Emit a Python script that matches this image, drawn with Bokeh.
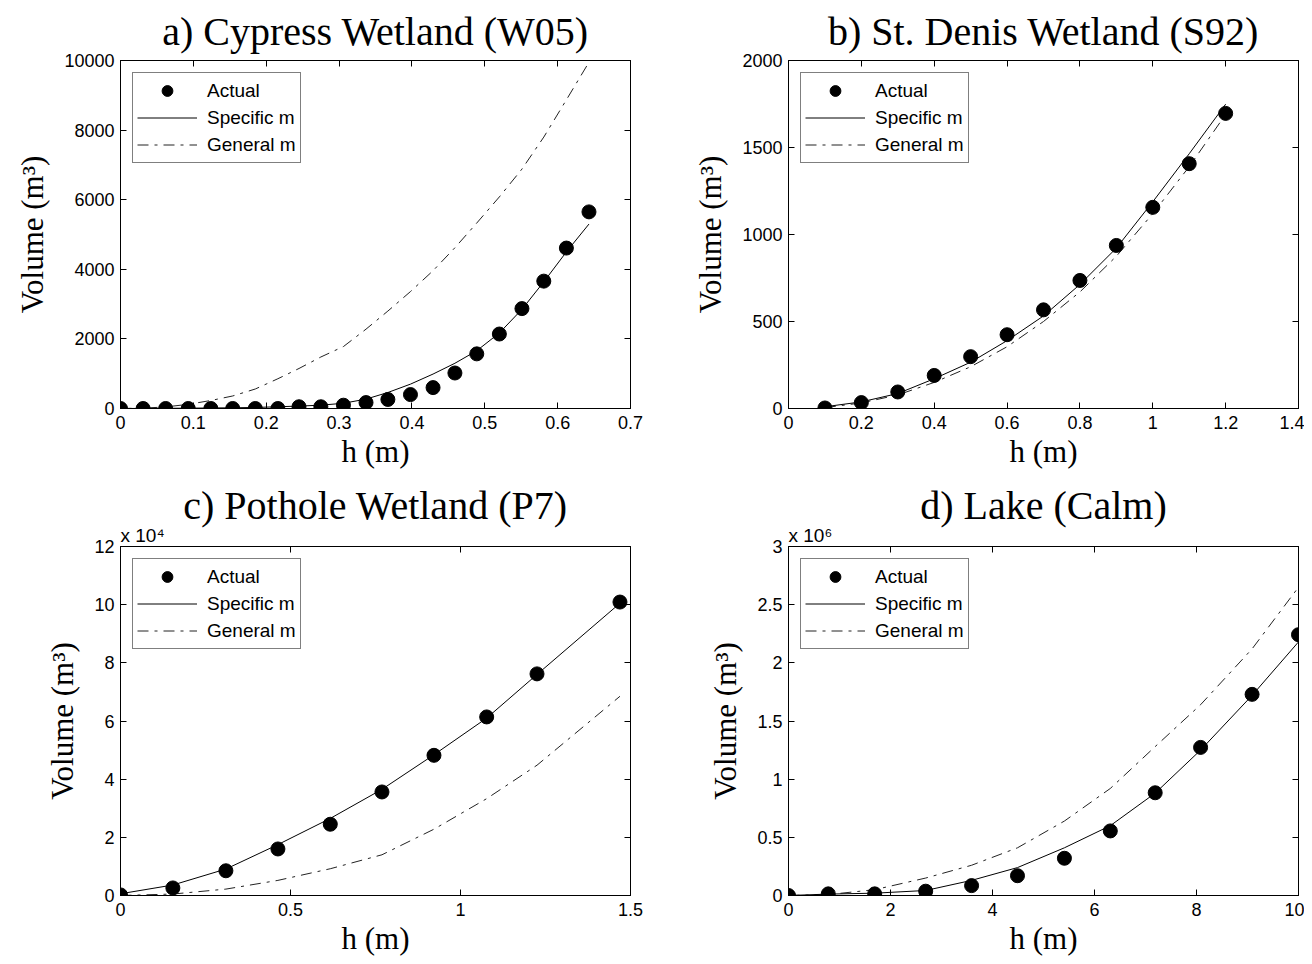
from bokeh.plotting import figure
from bokeh.models import (FixedTicker, CustomJSTickFormatter, LinearAxis, Title,
                          Range1d, Legend, LegendItem, CustomLabelingPolicy)
from bokeh.layouts import column, row
from bokeh.embed import file_html
from bokeh.resources import INLINE

# ---------------- data ----------------
# a) Cypress Wetland (W05)
h_a = [0, 0.031, 0.062, 0.093, 0.124, 0.154, 0.185, 0.216, 0.245, 0.275, 0.306,
       0.337, 0.367, 0.398, 0.429, 0.459, 0.489, 0.520, 0.551, 0.581, 0.612, 0.643]
act_a = [0, 0, 0, 0, 0, 0, 0, 0, 50, 50, 95, 170, 260, 400, 600, 1020, 1570, 2140,
         2870, 3660, 4610, 5650]
spec_a = [0, 2, 5, 10, 15, 20, 30, 50, 70, 95, 150, 270, 460, 700, 990, 1300, 1660,
          2170, 2850, 3640, 4500, 5300]
gen_a = [0, 10, 45, 120, 230, 360, 560, 855, 1150, 1480, 1780, 2280, 2800, 3360,
         3960, 4620, 5330, 6080, 6880, 7800, 8870, 9950]

# b) St. Denis Wetland (S92)
h_b = [0.1, 0.2, 0.3, 0.4, 0.5, 0.6, 0.7, 0.8, 0.9, 1.0, 1.1, 1.2]
act_b = [3, 34, 95, 190, 298, 424, 567, 736, 937, 1156, 1407, 1696]
spec_b = [10, 38, 86, 171, 266, 390, 532, 713, 922, 1188, 1464, 1749]
gen_b = [5, 32, 78, 150, 240, 355, 500, 670, 875, 1120, 1390, 1690]

# c) Pothole Wetland (P7)
h_c = [0, 0.154, 0.31, 0.463, 0.617, 0.769, 0.922, 1.077, 1.225, 1.469]
act_c = [200, 2600, 8500, 16000, 24500, 35600, 48200, 61400, 76200, 100900]
spec_c = [600, 3600, 9100, 17500, 26500, 36500, 48400, 61000, 76000, 100500]
gen_c = [0, 500, 2200, 5200, 9200, 14000, 22800, 33300, 44800, 68500]

# d) Lake (Calm)
h_d = [0, 0.78, 1.69, 2.69, 3.59, 4.49, 5.41, 6.31, 7.19, 8.08, 9.09, 10.0]
act_d = [0, 14000, 14000, 37000, 85000, 170000, 320000, 555000, 883000, 1273000,
         1729000, 2242000]
spec_d = [0, 12000, 20000, 43000, 130000, 240000, 410000, 600000, 880000, 1250000,
          1720000, 2180000]
gen_d = [0, 8000, 50000, 150000, 260000, 410000, 640000, 920000, 1280000, 1640000,
         2120000, 2650000]

titles = ["a) Cypress Wetland (W05)", "b) St. Denis Wetland (S92)",
          "c) Pothole Wetland (P7)", "d) Lake (Calm)"]
exponents = [None, None, "x 10⁴", "x 10⁶"]
xticks_a = [0, 0.1, 0.2, 0.3, 0.4, 0.5, 0.6, 0.7]
yticks_a = [0, 2000, 4000, 6000, 8000, 10000]
xticks_b = [0, 0.2, 0.4, 0.6, 0.8, 1.0, 1.2, 1.4]
yticks_b = [0, 500, 1000, 1500, 2000]
xticks_c = [0, 0.5, 1.0, 1.5]
yticks_c = [0, 20000, 40000, 60000, 80000, 100000, 120000]
xticks_d = [0, 2, 4, 6, 8, 10]
yticks_d = [0, 500000, 1000000, 1500000, 2000000, 2500000, 3000000]

SERIF = "Liberation Serif"
SANS = "Liberation Sans"


def fmt(scale):
    return CustomJSTickFormatter(args=dict(s=scale), code="""
        const v = tick / s;
        return String(Math.round(v * 1e6) / 1e6);
    """)


def style_axis(ax, ticks, scale, label, tick_standoff, label_standoff):
    ax.ticker = FixedTicker(ticks=ticks)
    ax.formatter = fmt(scale)
    ax.major_tick_in = 6
    ax.major_tick_out = 0
    ax.minor_tick_in = 0
    ax.minor_tick_out = 0
    ax.axis_line_color = "black"
    ax.major_tick_line_color = "black"
    ax.major_label_text_font = SANS
    ax.major_label_text_font_size = "18px"
    ax.major_label_text_color = "black"
    ax.major_label_standoff = tick_standoff
    ax.axis_label = label
    ax.axis_label_text_font = SERIF
    ax.axis_label_text_font_size = "31px"
    ax.axis_label_text_font_style = "normal"
    ax.axis_label_text_color = "black"
    ax.axis_label_standoff = label_standoff


def mirror_axis(p, ticks, side):
    ax = LinearAxis(ticker=FixedTicker(ticks=ticks))
    ax.major_tick_in = 6
    ax.major_tick_out = 0
    ax.minor_tick_in = 0
    ax.minor_tick_out = 0
    ax.major_label_policy = CustomLabelingPolicy(code="""
        for (const i of indices) { indices.unset(i) }
    """)
    ax.major_label_text_font_size = "0px"
    ax.major_label_standoff = 0
    ax.axis_line_color = "black"
    ax.major_tick_line_color = "black"
    p.add_layout(ax, side)


def panel(title, h, act, spec, gen, xr, yr, xt, yt, yscale, exp, w, hgt, bl, br, bt, bb):
    p = figure(width=w, height=hgt, output_backend="svg", toolbar_location=None,
               x_range=Range1d(*xr), y_range=Range1d(*yr),
               min_border_left=bl, min_border_right=br, min_border_top=bt,
               min_border_bottom=bb)
    p.xgrid.visible = False
    p.ygrid.visible = False
    p.outline_line_color = "black"
    p.outline_line_width = 1
    p.background_fill_color = "white"
    p.border_fill_color = "white"

    p.title.text = title
    p.title.align = "center"
    p.title.text_font = SERIF
    p.title.text_font_size = "40px"
    p.title.text_font_style = "normal"
    p.title.text_color = "black"
    p.title.standoff = 13 if exp is None else -11

    style_axis(p.xaxis[0], xt, 1, "h (m)", 7, 2)
    style_axis(p.yaxis[0], yt, yscale, "Volume (m³)", 6, 11)
    mirror_axis(p, xt, "above")
    mirror_axis(p, yt, "right")

    if exp is not None:
        p.add_layout(Title(text=exp, align="left", text_font=SANS,
                           text_font_size="19px", text_font_style="normal",
                           text_color="black", standoff=1), "above")

    r_gen = p.line(h, gen, line_color="#222222", line_width=1, line_dash="11 6 3 6")
    r_spec = p.line(h, spec, line_color="black", line_width=1)
    r_act = p.scatter(h, act, marker="circle", size=14, color="black")

    leg = Legend(items=[LegendItem(label="Actual", renderers=[r_act]),
                        LegendItem(label="Specific m", renderers=[r_spec]),
                        LegendItem(label="General m", renderers=[r_gen])],
                 location="top_left", margin=12, padding=4, spacing=0,
                 label_height=27, glyph_height=27, glyph_width=60,
                 label_standoff=10, border_line_color="black", border_line_width=1,
                 label_text_font=SANS, label_text_font_size="19px",
                 label_text_color="black", background_fill_color="white",
                 background_fill_alpha=1)
    p.add_layout(leg)
    return p


pa = panel(titles[0], h_a, act_a, spec_a, gen_a, (0, 0.7), (0, 10000), xticks_a,
           yticks_a, 1, exponents[0], 676, 474, 120, 46, 59, 66)
pb = panel(titles[1], h_b, act_b, spec_b, gen_b, (0, 1.4), (0, 2000), xticks_b,
           yticks_b, 1, exponents[1], 628, 474, 112, 6, 59, 66)
pc = panel(titles[2], h_c, act_c, spec_c, gen_c, (0, 1.5), (0, 120000), xticks_c,
           yticks_c, 1e4, exponents[2], 676, 486, 120, 46, 72, 65)
pd = panel(titles[3], h_d, act_d, spec_d, gen_d, (0, 10), (0, 3000000), xticks_d,
           yticks_d, 1e6, exponents[3], 628, 486, 112, 6, 72, 65)

layout = column(row(pa, pb), row(pc, pd))
open("out.html", "w").write(file_html(layout, INLINE))
